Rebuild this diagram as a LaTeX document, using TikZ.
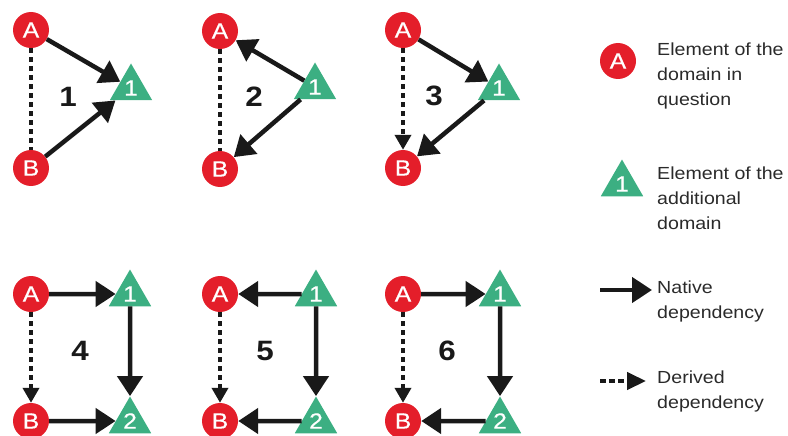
\documentclass[tikz,border=0pt]{standalone}
\usepackage{fontspec}
\setmainfont{Liberation Sans}
\newfontfamily\wfont[FakeStretch=1.12]{Liberation Sans}
\newfontfamily\wfontb[FakeStretch=1.12,FakeBold=0.6]{Liberation Sans}
\usetikzlibrary{shapes.geometric,arrows.meta}
\definecolor{domred}{HTML}{E41E2A}
\definecolor{domgreen}{HTML}{3CAF82}
\definecolor{legtext}{HTML}{2A2A2A}
\begin{document}
\begin{tikzpicture}[x=1pt,y=-1pt,
  elA/.style={circle,fill=domred,minimum size=36pt,inner sep=0pt,text=white,
    font=\wfontb\fontsize{22}{22}\selectfont},
  elT/.style={regular polygon,regular polygon sides=3,fill=domgreen,minimum size=49pt,
    inner sep=0pt,text=white,font=\wfontb\fontsize{22}{22}\selectfont},
  nat/.style={line width=4.5pt,draw=black!90,-{Triangle[length=20pt,width=25pt]}},
  der/.style={line width=4.5pt,draw=black!90,dash pattern=on 5pt off 4pt,
    -{Triangle[length=15pt,width=16pt]}},
  derl/.style={line width=4.5pt,draw=black!90,dash pattern=on 5pt off 4pt},
  derleg/.style={line width=4.5pt,draw=black!90,dash pattern=on 6pt off 3pt,
    -{Triangle[length=19pt,width=17pt]}},
  plabel/.style={font=\wfont\bfseries\fontsize{28}{28}\selectfont,text=black!90},
  legend/.style={anchor=west,align=left,inner sep=0pt,text=legtext,
    font=\wfont\fontsize{17.5}{25}\selectfont}
]
\useasboundingbox (0,0) rectangle (788,436);

% ---------- Panel 1
\node[elA] (A1) at (31,30) {A};
\node[elA] (B1) at (31,168) {B};
\node[elT] (T1) at (131,88) {1};
\node[plabel] (L1) at (68,97) {1};
\draw[derl] (A1) -- (B1);
\draw[nat] (A1) -- (T1);
\draw[nat] (B1) -- (T1);

% ---------- Panel 2
\node[elA] (A2) at (220,31) {A};
\node[elA] (B2) at (220,169) {B};
\node[elT] (T2) at (315,87) {1};
\node[plabel] (L2) at (254,97) {2};
\draw[derl] (A2) -- (B2);
\draw[nat] (T2) -- (A2);
\draw[nat] (T2) -- (B2);

% ---------- Panel 3
\node[elA] (A3) at (403,30) {A};
\node[elA] (B3) at (403,168) {B};
\node[elT] (T3) at (499,88) {1};
\node[plabel] (L3) at (434,96) {3};
\draw[der] (A3) -- (B3);
\draw[nat] (A3) -- (T3);
\draw[nat] (T3) -- (B3);

% ---------- Panel 4
\node[elA] (A4) at (31,294) {A};
\node[elA] (B4) at (31,421) {B};
\node[elT] (T41) at (130,294) {1};
\node[elT] (T42) at (130,421) {2};
\node[plabel] (L4) at (80,351) {4};
\draw[der] (A4) -- (B4);
\draw[nat] (A4) -- (T41);
\draw[nat] (T41) -- (T42);
\draw[nat] (B4) -- (T42);

% ---------- Panel 5
\node[elA] (A5) at (220,294) {A};
\node[elA] (B5) at (220,421) {B};
\node[elT] (T51) at (316,294) {1};
\node[elT] (T52) at (316,421) {2};
\node[plabel] (L5) at (265,351) {5};
\draw[der] (A5) -- (B5);
\draw[nat] (T51) -- (A5);
\draw[nat] (T51) -- (T52);
\draw[nat] (T52) -- (B5);

% ---------- Panel 6
\node[elA] (A6) at (403,294) {A};
\node[elA] (B6) at (403,421) {B};
\node[elT] (T61) at (500,294) {1};
\node[elT] (T62) at (500,421) {2};
\node[plabel] (L6) at (447,351) {6};
\draw[der] (A6) -- (B6);
\draw[nat] (A6) -- (T61);
\draw[nat] (T61) -- (T62);
\draw[nat] (T62) -- (B6);

% ---------- Legend
\node[elA] (LA) at (618,61) {A};
\node[legend] (LAt) at (657,76) {Element of the\\domain in\\question};
\node[elT] (LT) at (622,184) {1};
\node[legend] (LTt) at (657,198) {Element of the\\additional\\domain};
\coordinate (n0) at (600,290);
\coordinate (n1) at (652,290);
\draw[nat] (n0) -- (n1);
\node[legend] (Nt) at (657,301) {Native\\dependency};
\coordinate (d0) at (600,381);
\coordinate (d1) at (646,381);
\draw[derleg] (d0) -- (d1);
\node[legend] (Dt) at (657,391) {Derived\\dependency};
\end{tikzpicture}
\end{document}
